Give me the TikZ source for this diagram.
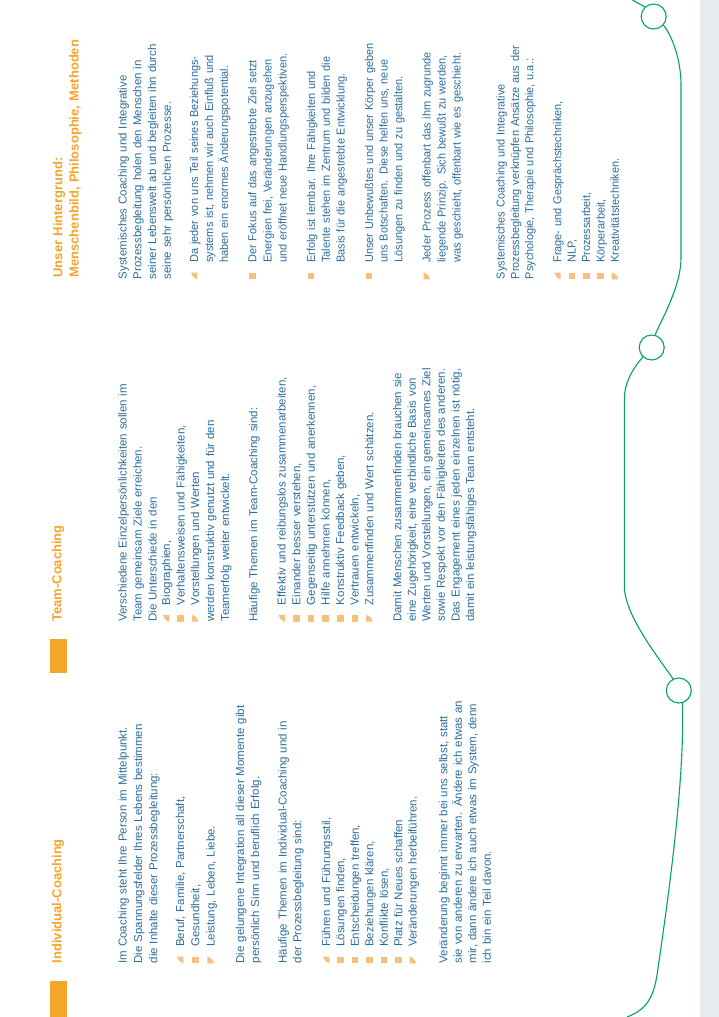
\documentclass[tikz,border=0pt]{standalone}
\usepackage{fontspec}
\setmainfont{Liberation Sans}
\newfontfamily\narrowsf{Liberation Sans}[FakeStretch=0.955]
\definecolor{txtblue}{HTML}{2C6E9C}
\definecolor{hdorange}{HTML}{F5A42C}
\definecolor{bulorange}{HTML}{F8BF7F}
\definecolor{lgreen}{HTML}{00A464}
\definecolor{stripgrey}{HTML}{E6EBEE}
\newcommand\bsq[2]{\fill[bulorange] (#1-7.2,#2-6.8) rectangle (#1-0.6,#2);}
\newcommand\btop[2]{\fill[bulorange] (#1-7.2,#2-6.8) -- (#1-0.6,#2-6.8) -- (#1-0.6,#2) .. controls (#1-4.6,#2-1.6) .. (#1-7.2,#2-6.8) -- cycle;}
\newcommand\bbot[2]{\fill[bulorange] (#1-7.2,#2-6.8) -- (#1-7.2,#2) -- (#1-0.6,#2) .. controls (#1-2.4,#2-4.8) .. (#1-7.2,#2-6.8) -- cycle;}
\begin{document}
\begin{tikzpicture}[x=1pt,y=-1pt,
  body/.style={rotate=90, anchor=base west, inner sep=0pt, outer sep=0pt,
    text width=270pt, align=left, text=txtblue,
    font=\fontsize{11.5}{#1}\selectfont},
  body/.default=14.6,
  nbody/.style={body=#1, font=\narrowsf\fontsize{11.5}{#1}\selectfont},
  head/.style={rotate=90, anchor=base west, inner sep=0pt, outer sep=0pt,
    text width=270pt, align=left, text=hdorange,
    font=\bfseries\fontsize{13}{16.3}\selectfont},
  tab/.style={fill=hdorange},
  gline/.style={draw=lgreen, line width=1.1pt},
  ring/.style={circle, draw=lgreen, line width=1.1pt, minimum size=25pt, inner sep=0pt}]
\useasboundingbox (0,0) rectangle (719,1017);
\fill[white] (0,0) rectangle (719,1017);
\fill[stripgrey] (700,0) rectangle (719,1017);

% ---------- Individual-Coaching ----------
\fill[tab] (50,981) rectangle (67,1017);
\node[head] (hInd) at (61.3,963.3) {Individual-Coaching};
\node[body=15.3] (i1) at (126.7,963.3) {Im Coaching steht Ihre Person im Mittelpunkt.\\Die Spannungsfelder Ihres Lebens bestimmen\\die Inhalte dieser Prozessbegleitung:};
\node[body=15.3] (i2) at (184,946.7) {Beruf, Familie, Partnerschaft,\\Gesundheit,\\Leistung, Leben, Liebe.};
\btop{184}{963.3}\bsq{199.3}{963.3}\bbot{214.6}{963.3}
\node[body=15] (i3) at (244,963.3) {Die gelungene Integration all dieser Momente gibt\\persönlich Sinn und beruflich Erfolg.};
\node[body=14.6] (i4) at (286.7,963.3) {Häufige Themen im Individual-Coaching und in\\der Prozessbegleitung sind:};
\node[body=14.45] (i5) at (330,946.7) {Führen und Führungsstil,\\Lösungen finden,\\Entscheidungen treffen,\\Beziehungen klären,\\Konflikte lösen,\\Platz für Neues schaffen\\Veränderungen herbeiführen.};
\btop{330}{963.3}\bsq{344.45}{963.3}\bsq{358.9}{963.3}\bsq{373.35}{963.3}\bsq{387.8}{963.3}\bsq{402.25}{963.3}\bbot{416.7}{963.3}
\node[body=14.5] (i6) at (447.3,963.3) {Veränderung beginnt immer bei uns selbst, statt\\sie von anderen zu erwarten. Ändere ich etwas an\\mir, dann ändere ich auch etwas im System, denn\\ich bin ein Teil davon.};

% ---------- Team-Coaching ----------
\fill[tab] (50,639) rectangle (67,673);
\node[head] (hTeam) at (61.3,621.7) {Team-Coaching};
\node[body=15] (t1) at (126.7,621.7) {Verschiedene Einzelpersönlichkeiten sollen im\\Team gemeinsam Ziele erreichen.\\Die Unterschiede in den};
\node[body=14.5] (t2) at (170,605) {Biographien,\\Verhaltensweisen und Fähigkeiten,\\Vorstellungen und Werten};
\btop{170}{621.7}\bsq{184.5}{621.7}\bbot{199}{621.7}
\node[body=15] (t3) at (214,621.7) {werden konstruktiv genutzt und für den\\Teamerfolg weiter entwickelt.};
\node[body] (t4) at (257.3,621.7) {Häufige Themen im Team-Coaching sind:};
\node[body=14.6] (t5) at (285.7,605) {Effektiv und reibungslos zusammenarbeiten,\\Einander besser verstehen,\\Gegenseitig unterstützen und anerkennen,\\Hilfe annehmen können,\\Konstruktiv Feedback geben,\\Vertrauen entwickeln,\\Zusammenfinden und Wert schätzen.};
\btop{285.7}{621.7}\bsq{300.3}{621.7}\bsq{314.9}{621.7}\bsq{329.5}{621.7}\bsq{344.1}{621.7}\bsq{358.7}{621.7}\bbot{373.3}{621.7}
\node[body=14.55] (t6) at (401.3,621.7) {Damit Menschen zusammenfinden brauchen sie\\eine Zugehörigkeit, eine verbindliche Basis von\\Werten und Vorstellungen, ein gemeinsames Ziel\\sowie Respekt vor den Fähigkeiten des anderen.\\Das Engagement eines jeden einzelnen ist nötig,\\damit ein leistungsfähiges Team entsteht.};

% ---------- Unser Hintergrund ----------
\node[head] (hHin) at (62.3,277.5) {Unser Hintergrund:\\Menschenbild, Philosophie, Methoden};
\node[body=14.7] (h1) at (126.7,279.3) {Systemisches Coaching und Integrative\\Prozessbegleitung holen den Menschen in\\seiner Lebenswelt ab und begleiten ihn durch\\seine sehr persönlichen Prozesse.};
\node[nbody=15] (h2) at (198,262.7) {Da jeder von uns Teil seines Beziehungs-\\systems ist, nehmen wir auch Einfluß und\\haben ein enormes Änderungspotential.};
\btop{198}{279.3}
\node[nbody=15.2] (h3) at (256.3,262.7) {Der Fokus auf das angestrebte Ziel setzt\\Energien frei, Veränderungen anzugehen\\und eröffnet neue Handlungsperspektiven.};
\bsq{256.3}{279.3}
\node[nbody=14.85] (h4) at (315,262.7) {Erfolg ist lernbar. Ihre Fähigkeiten und\\Talente stehen im Zentrum und bilden die\\Basis für die angestrebte Entwicklung.};
\bsq{315}{279.3}
\node[nbody=14.65] (h5) at (373,262.7) {Unser Unbewußtes und unser Körper geben\\uns Botschaften. Diese helfen uns, neue\\Lösungen zu finden und zu gestalten.};
\bsq{373}{279.3}
\node[nbody=15] (h6) at (430.7,262.7) {Jeder Prozess offenbart das ihm zugrunde\\liegende Prinzip. Sich bewußt zu werden,\\was geschieht, offenbart wie es geschieht.};
\bbot{430.7}{279.3}
\node[nbody=14.3] (h7) at (504.7,279.3) {Systemisches Coaching und Integrative\\Prozessbegleitung verknüpfen Ansätze aus der\\Psychologie, Therapie und Philosophie, u.a.:};
\node[nbody=14.4] (h8) at (561.3,262.7) {Frage- und Gesprächstechniken,\\NLP,\\Prozessarbeit,\\Körperarbeit,\\Kreativitätstechniken.};
\btop{561.3}{279.3}\bsq{575.7}{279.3}\bsq{590.1}{279.3}\bsq{604.5}{279.3}\bbot{618.9}{279.3}

% ---------- green line with rings ----------
\node[ring] (c1) at (653.7,16.5) {};
\node[ring] (c2) at (651.7,347.5) {};
\node[ring] (c3) at (678.8,690.5) {};
\coordinate (top) at (632.5,0);
\coordinate (bot) at (627,1017);
\draw[gline] (top) .. controls (638,3) .. (c1.133);
\draw[gline] (c1.-42) .. controls (671,34) and (681,58) .. (681,85) -- (681,258)
  .. controls (681,285) and (664,315) .. (c2.75);
\draw[gline] (c2.227) .. controls (630,372) and (624.3,385) .. (624.3,400) -- (624.3,585)
  .. controls (624.3,610) and (645,640) .. (c3.116);
\draw[gline] (c3.-74) .. controls (685,780) and (668,900) .. (657,975)
  .. controls (653,1000) and (645,1010) .. (bot);
\end{tikzpicture}
\end{document}
